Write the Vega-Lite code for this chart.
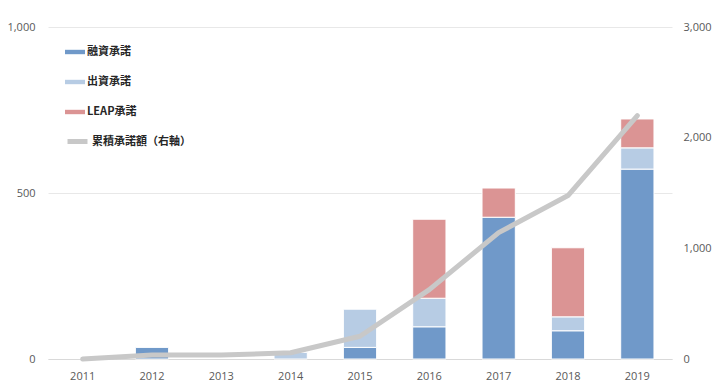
{
  "$schema": "https://vega.github.io/schema/vega-lite/v6.json",
  "width": 624,
  "height": 332,
  "autosize": {"type": "none"},
  "padding": {"left": 48, "top": 27, "right": 48, "bottom": 33},
  "background": "white",
  "config": {
    "view": {"stroke": null},
    "font": "Open Sans",
    "axis": {"labelFont": "Open Sans", "labelFontSize": 11, "labelColor": "#595959"}
  },
  "datasets": {
    "bars": [
      {"year": "2012", "type": "融資承諾", "k": 1, "value": 35},
      {"year": "2014", "type": "出資承諾", "k": 2, "value": 20},
      {"year": "2015", "type": "融資承諾", "k": 1, "value": 35},
      {"year": "2015", "type": "出資承諾", "k": 2, "value": 115},
      {"year": "2016", "type": "融資承諾", "k": 1, "value": 97},
      {"year": "2016", "type": "出資承諾", "k": 2, "value": 86},
      {"year": "2016", "type": "LEAP承諾", "k": 3, "value": 238},
      {"year": "2017", "type": "融資承諾", "k": 1, "value": 427},
      {"year": "2017", "type": "LEAP承諾", "k": 3, "value": 88},
      {"year": "2018", "type": "融資承諾", "k": 1, "value": 85},
      {"year": "2018", "type": "出資承諾", "k": 2, "value": 42},
      {"year": "2018", "type": "LEAP承諾", "k": 3, "value": 208},
      {"year": "2019", "type": "融資承諾", "k": 1, "value": 572},
      {"year": "2019", "type": "出資承諾", "k": 2, "value": 64},
      {"year": "2019", "type": "LEAP承諾", "k": 3, "value": 87}
    ],
    "line": [
      {"year": "2011", "s": "累積承諾額（右軸）", "cum": 0},
      {"year": "2012", "s": "累積承諾額（右軸）", "cum": 36},
      {"year": "2013", "s": "累積承諾額（右軸）", "cum": 36},
      {"year": "2014", "s": "累積承諾額（右軸）", "cum": 56},
      {"year": "2015", "s": "累積承諾額（右軸）", "cum": 206},
      {"year": "2016", "s": "累積承諾額（右軸）", "cum": 627},
      {"year": "2017", "s": "累積承諾額（右軸）", "cum": 1142},
      {"year": "2018", "s": "累積承諾額（右軸）", "cum": 1477},
      {"year": "2019", "s": "累積承諾額（右軸）", "cum": 2200}
    ]
  },
  "encoding": {
    "x": {
      "field": "year", "type": "ordinal", "title": null,
      "scale": {"domain": ["2011", "2012", "2013", "2014", "2015", "2016", "2017", "2018", "2019"], "paddingInner": 0.52, "paddingOuter": 0.26},
      "axis": {"labelAngle": 0, "ticks": false, "domainColor": "#d9d9d9", "labelPadding": 11, "grid": false}
    }
  },
  "layer": [
    {
      "data": {"name": "bars"},
      "mark": {"type": "bar", "stroke": "white", "strokeWidth": 1},
      "encoding": {
        "y": {
          "field": "value", "type": "quantitative", "title": null, "stack": "zero",
          "scale": {"domain": [0, 1000], "nice": false},
          "axis": {"values": [0, 500, 1000], "format": ",.0f", "domain": false, "ticks": false, "labelPadding": 13, "gridColor": "#e8e8e8"}
        },
        "color": {
          "field": "type", "type": "nominal",
          "scale": {"domain": ["融資承諾", "出資承諾", "LEAP承諾"], "range": ["#7099c9", "#b7cce4", "#db9494"]},
          "legend": {
            "title": null, "orient": "none", "legendX": 17, "legendY": 15,
            "symbolType": "M-1,-0.22H1V0.22H-1Z", "symbolSize": 400, "symbolStrokeWidth": 0,
            "labelFont": "Noto Sans CJK JP", "labelFontWeight": "bold", "labelFontSize": 11, "labelColor": "#262626",
            "rowPadding": 15, "padding": 0, "labelOffset": 2
          }
        },
        "order": {"field": "k", "type": "quantitative"}
      }
    },
    {
      "data": {"name": "line"},
      "mark": {"type": "line", "strokeWidth": 5, "strokeCap": "round", "strokeJoin": "round"},
      "encoding": {
        "y": {
          "field": "cum", "type": "quantitative", "title": null,
          "scale": {"domain": [0, 3000], "nice": false},
          "axis": {"orient": "right", "values": [0, 1000, 2000, 3000], "format": ",.0f", "domain": false, "ticks": false, "grid": false, "labelPadding": 11}
        },
        "color": {
          "field": "s", "type": "nominal",
          "scale": {"range": ["#c8c8c8"]},
          "legend": {
            "title": null, "orient": "none", "legendX": 17, "legendY": 102,
            "symbolType": "stroke", "symbolSize": 400, "symbolStrokeWidth": 5,
            "labelFont": "Noto Sans CJK JP", "labelFontWeight": "bold", "labelFontSize": 11, "labelColor": "#262626",
            "padding": 0, "labelOffset": 2
          }
        }
      }
    }
  ],
  "resolve": {"scale": {"y": "independent", "color": "independent"}}
}
